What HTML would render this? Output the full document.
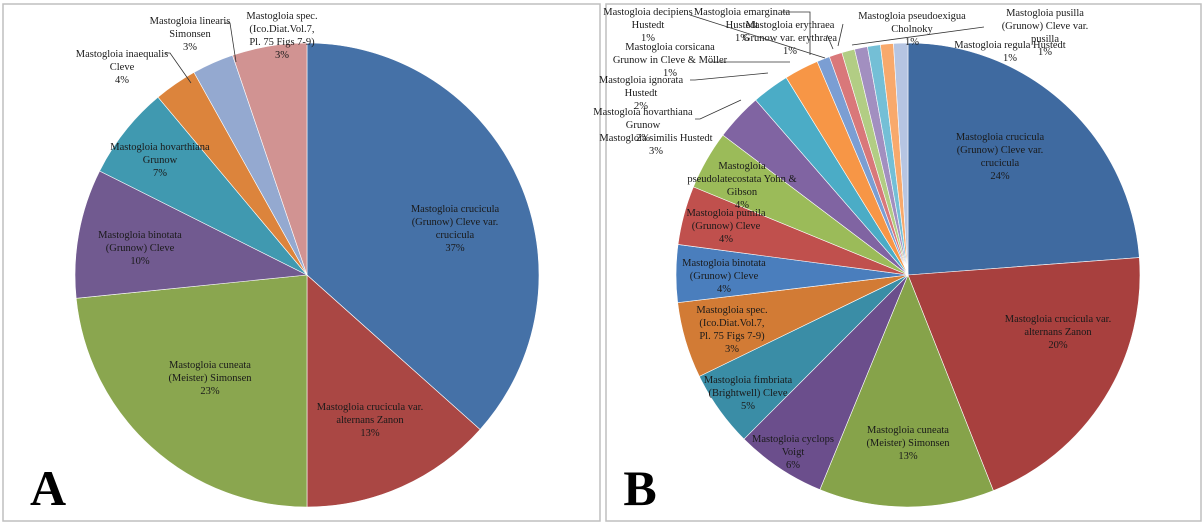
<!DOCTYPE html>
<html><head><meta charset="utf-8"><style>
html,body{margin:0;padding:0;background:#fff;}
svg{display:block;font-family:"Liberation Serif",serif;}
text{font-size:10.5px;fill:#1a1a1a;text-anchor:middle;}
</style></head><body>
<svg id="chart" width="1204" height="525" viewBox="0 0 1204 525">
<rect x="3" y="4" width="597" height="517" fill="#fff" stroke="#bfbfbf" stroke-width="1.5"/>
<rect x="606" y="4" width="595" height="517" fill="#fff" stroke="#bfbfbf" stroke-width="1.5"/>
<g id="pieA"></g>
<g id="pieB"></g>
<g id="labels"></g>
<text x="48" y="505" style="font-size:50px;font-weight:bold;fill:#000">A</text>
<text x="640" y="505" style="font-size:50px;font-weight:bold;fill:#000">B</text>
</svg>
<script>
const catsA = ["crucicula","alternans","cuneata","binotata","hovarthiana","inaequalis","linearis","spec"];
const valsA = [36.6, 13.4, 23.4, 9.0, 6.5, 3.0, 2.9, 5.2];
const pctA = ["37%","13%","23%","10%","7%","4%","3%","3%"];
const catsB = ["crucicula","alternans","cuneata","cyclops","fimbriata","spec","binotata","pumila","pseudolatecostata","similis","hovarthiana","ignorata","corsicana","decipiens","emarginata","erythraea","pseudoexigua","pusilla","regula"];
const valsB = [23.8, 20.2, 12.2, 6.3, 5.3, 5.3, 4.0, 4.1, 4.1, 3.3, 2.6, 2.4, 0.9, 0.9, 0.9, 0.9, 0.9, 0.9, 1.0];
const pctB = ["24%","20%","13%","6%","5%","3%","4%","4%","4%","3%","2%","2%","1%","1%","1%","1%","1%","1%","1%"];
const colA = ["#4571a7","#aa4744","#8aa64f","#715a90","#4099b0","#dc843c","#94a9d0","#d19392"];
const colB = ["#3f6aa0","#a8403e","#86a34a","#6b4e8c","#3a8da6","#d27b35","#4a7ebd","#c0504d","#9bbb59","#8064a2","#4bacc6","#f79646","#7b9ed3","#d9787a","#b2cd84","#a28fc0","#74bfd6","#f8a96c","#b6c5e2"];
const NS="http://www.w3.org/2000/svg";
function drawPie(g, vals, cols, cx, cy, r, prefix){
  const tot = vals.reduce((a,b)=>a+b,0);
  let a0 = 0;
  vals.forEach((v,i)=>{
    const a1 = a0 + v/tot*2*Math.PI;
    const x0 = cx + r*Math.sin(a0), y0 = cy - r*Math.cos(a0);
    const x1 = cx + r*Math.sin(a1), y1 = cy - r*Math.cos(a1);
    const p = document.createElementNS(NS,"path");
    p.setAttribute("d",`M${cx},${cy}L${x0},${y0}A${r},${r} 0 ${(a1-a0)>Math.PI?1:0} 1 ${x1},${y1}Z`);
    p.setAttribute("fill",cols[i]);
    p.setAttribute("stroke","#fff");
    p.setAttribute("stroke-width","0.6");
    
    
    g.appendChild(p);
    a0 = a1;
  });
}
drawPie(document.getElementById("pieA"), valsA, colA, 307, 275, 232, "pie-a");
drawPie(document.getElementById("pieB"), valsB, colB, 908, 275, 232, "pie-b");

const L = document.getElementById("labels");
function lab(x, ys, lines, name){
  lines.forEach((t,i)=>{
    const e = document.createElementNS(NS,"text");
    e.setAttribute("x",x); e.setAttribute("y",ys+i*13);
    e.textContent = t;
    
    
    L.appendChild(e);
  });
}
function line(pts){
  const e = document.createElementNS(NS,"polyline");
  e.setAttribute("points",pts); e.setAttribute("fill","none");
  e.setAttribute("stroke","#333"); e.setAttribute("stroke-width","0.8");
  
  
  L.appendChild(e);
}
// Panel A
lab(455,212,["Mastogloia crucicula","(Grunow) Cleve var.","crucicula",pctA[0]],"label-a-crucicula");
lab(370,410,["Mastogloia crucicula var.","alternans Zanon",pctA[1]],"label-a-alternans");
lab(210,368,["Mastogloia cuneata","(Meister) Simonsen",pctA[2]],"label-a-cuneata");
lab(140,238,["Mastogloia binotata","(Grunow) Cleve",pctA[3]],"label-a-binotata");
lab(160,150,["Mastogloia hovarthiana","Grunow",pctA[4]],"label-a-hovarthiana");
lab(122,57,["Mastogloia inaequalis","Cleve",pctA[5]],"label-a-inaequalis");
lab(190,24,["Mastogloia linearis","Simonsen",pctA[6]],"label-a-linearis");
lab(282,19,["Mastogloia spec.","(Ico.Diat.Vol.7,","Pl. 75 Figs 7-9)",pctA[7]],"label-a-spec");
line("165,53 170,53 191,83");
line("225,23 230,23 236,62");
// Panel B
lab(1000,140,["Mastogloia crucicula","(Grunow) Cleve var.","crucicula",pctB[0]],"label-b-crucicula");
lab(1058,322,["Mastogloia crucicula var.","alternans Zanon",pctB[1]],"label-b-alternans");
lab(908,433,["Mastogloia cuneata","(Meister) Simonsen",pctB[2]],"label-b-cuneata");
lab(793,442,["Mastogloia cyclops","Voigt",pctB[3]],"label-b-cyclops");
lab(748,383,["Mastogloia fimbriata","(Brightwell) Cleve",pctB[4]],"label-b-fimbriata");
lab(732,313,["Mastogloia spec.","(Ico.Diat.Vol.7,","Pl. 75 Figs 7-9)",pctB[5]],"label-b-spec");
lab(724,266,["Mastogloia binotata","(Grunow) Cleve",pctB[6]],"label-b-binotata");
lab(726,216,["Mastogloia pumila","(Grunow) Cleve",pctB[7]],"label-b-pumila");
lab(742,169,["Mastogloia","pseudolatecostata Yohn &","Gibson",pctB[8]],"label-b-pseudolatecostata");
lab(656,141,["Mastogloia similis  Hustedt",pctB[9]],"label-b-similis");
lab(643,115,["Mastogloia hovarthiana","Grunow",pctB[10]],"label-b-hovarthiana");
lab(641,83,["Mastogloia ignorata","Hustedt",pctB[11]],"label-b-ignorata");
lab(670,50,["Mastogloia corsicana","Grunow in Cleve & Möller",pctB[12]],"label-b-corsicana");
lab(648,15,["Mastogloia decipiens","Hustedt",pctB[13]],"label-b-decipiens");
lab(742,15,["Mastogloia emarginata","Hustedt",pctB[14]],"label-b-emarginata");
lab(790,28,["Mastogloia erythraea","Grunow var. erythraea",pctB[15]],"label-b-erythraea");
lab(912,19,["Mastogloia pseudoexigua","Cholnoky",pctB[16]],"label-b-pseudoexigua");
lab(1045,16,["Mastogloia pusilla","(Grunow) Cleve var.","pusilla",pctB[17]],"label-b-pusilla");
lab(1010,48,["Mastogloia regula Hustedt",pctB[18]],"label-b-regula");
line("695,119 700,119 741,100");
line("690,80 695,80 768,73");
line("709,62 790,62");
line("690,15 825,58");
line("782,12 810,12 810,55");
line("827,35 833,49");
line("843,24 838,46");
line("984,27 852,45");
</script>
</body></html>
